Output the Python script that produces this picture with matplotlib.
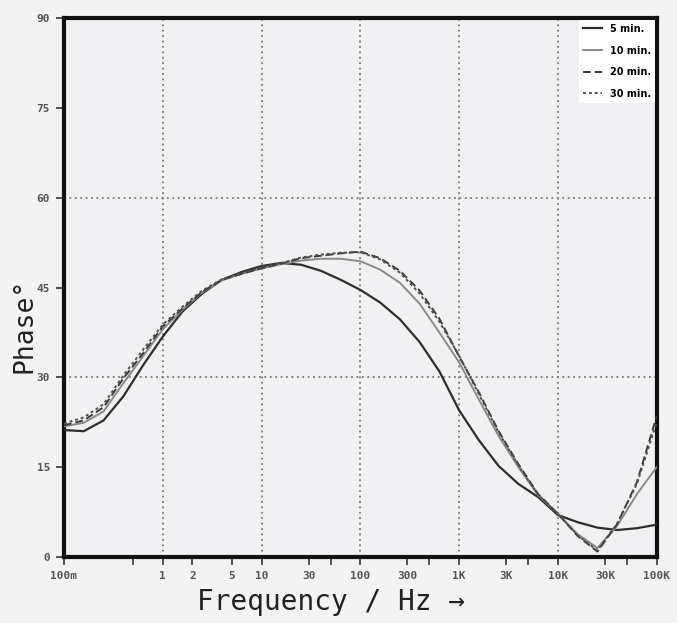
import matplotlib
matplotlib.use("Agg")
import matplotlib.pyplot as plt
import numpy as np

# frequenze (Hz), passo di 0.2 decadi da 100 mHz a 100 kHz
log_f = [-1.0, -0.8, -0.6, -0.4, -0.2, 0.0, 0.2, 0.4, 0.6, 0.8,
         1.0, 1.2, 1.4, 1.6, 1.8, 2.0, 2.2, 2.4, 2.6, 2.8,
         3.0, 3.2, 3.4, 3.6, 3.8, 4.0, 4.2, 4.4, 4.6, 4.8, 5.0]
freq = [10 ** v for v in log_f]

phase_5 = [21.2, 21.0, 22.8, 26.8, 32.0, 36.8, 41.0, 44.0, 46.3, 47.6,
           48.6, 49.1, 48.8, 47.8, 46.3, 44.6, 42.5, 39.7, 35.9, 31.0,
           24.5, 19.5, 15.2, 12.2, 10.0, 7.0, 5.8, 4.9, 4.5, 4.8, 5.4]
phase_10 = [21.8, 22.4, 24.3, 29.0, 33.5, 38.0, 41.3, 44.2, 46.2, 47.3,
            48.2, 48.9, 49.5, 49.8, 49.8, 49.4, 48.0, 45.8, 42.3, 37.5,
            32.5, 26.3, 20.2, 15.0, 10.3, 7.2, 3.8, 1.5, 5.2, 10.5, 15.0]
phase_20 = [22.0, 22.8, 25.0, 29.8, 34.0, 38.5, 41.5, 44.3, 46.3, 47.3,
            48.2, 49.0, 49.9, 50.3, 50.7, 51.0, 49.9, 47.8, 44.5, 39.8,
            33.5, 27.5, 21.0, 15.5, 10.5, 7.2, 3.5, 0.9, 5.5, 12.5, 23.5]
phase_30 = [22.3, 23.3, 25.5, 30.3, 34.6, 38.8, 41.8, 44.5, 46.4, 47.4,
            48.3, 49.1, 50.0, 50.5, 50.8, 50.9, 49.7, 47.5, 44.0, 39.3,
            33.6, 27.2, 20.8, 15.3, 10.4, 7.2, 3.6, 1.1, 5.6, 12.2, 22.5]

xticks = [0.1, 0.5, 1, 2, 5, 10, 30, 50, 100, 300, 500,
          1e3, 3e3, 5e3, 1e4, 3e4, 5e4, 1e5]
xlabels = ["100m", "", "1", "2", "5", "10", "30", "", "100", "300", "",
           "1K", "3K", "", "10K", "30K", "", "100K"]
yticks = [0, 15, 30, 45, 60, 75, 90]
grid_x = [1, 10, 100, 1e3, 1e4]
grid_y = [30, 60]

fig = plt.figure(figsize=(6.77, 6.23), dpi=100, facecolor="#f3f3f3")
ax = fig.add_axes([0.0945, 0.106, 0.8755, 0.865])
ax.set_facecolor("#f1f1f3")

for g in grid_x:
    ax.axvline(g, color="#777777", lw=1.3, ls=(0, (1, 2)), zorder=1)
for g in grid_y:
    ax.axhline(g, color="#777777", lw=1.3, ls=(0, (1, 2)), zorder=1)

ax.plot(freq, phase_5, color="#2e2e2e", lw=1.6, label="5 min.", zorder=3)
ax.plot(freq, phase_10, color="#8a8a8a", lw=1.4, label="10 min.", zorder=3)
ax.plot(freq, phase_20, color="#3c3c3c", lw=1.4, ls=(0, (4, 2)),
        label="20 min.", zorder=3)
ax.plot(freq, phase_30, color="#505050", lw=1.4, ls=(0, (1.5, 1.5)),
        label="30 min.", zorder=3)

ax.set_xscale("log")
ax.set_xlim(0.1, 1e5)
ax.set_ylim(0, 90)
ax.set_xticks(xticks)
ax.set_xticklabels(xlabels)
ax.minorticks_off()
ax.set_yticks(yticks)

for s in ax.spines.values():
    s.set_linewidth(3)
    s.set_color("#111111")
ax.tick_params(direction="out", length=6, width=1.3, color="#444444",
               labelsize=8, labelcolor="#555555", pad=4)
for lab in ax.get_xticklabels() + ax.get_yticklabels():
    lab.set_family("DejaVu Sans Mono")
    lab.set_fontweight("bold")

ax.set_xlabel("Frequency / Hz \u2192", family="DejaVu Sans Mono",
              fontsize=20, color="#222222")
ax.xaxis.set_label_coords(0.45, -0.058)
ax.set_ylabel("Phase\u00b0", family="DejaVu Sans Mono",
              fontsize=19, color="#222222")
ax.yaxis.set_label_coords(-0.045, 0.43)

leg = ax.legend(loc="upper right", handlelength=2.0,
                frameon=True, framealpha=1, facecolor="white",
                edgecolor="white", borderaxespad=0.2, labelspacing=1.2,
                prop={"weight": "bold", "size": 7})
leg.get_frame().set_linewidth(0)

fig.savefig("out.png", dpi=100, facecolor=fig.get_facecolor())
